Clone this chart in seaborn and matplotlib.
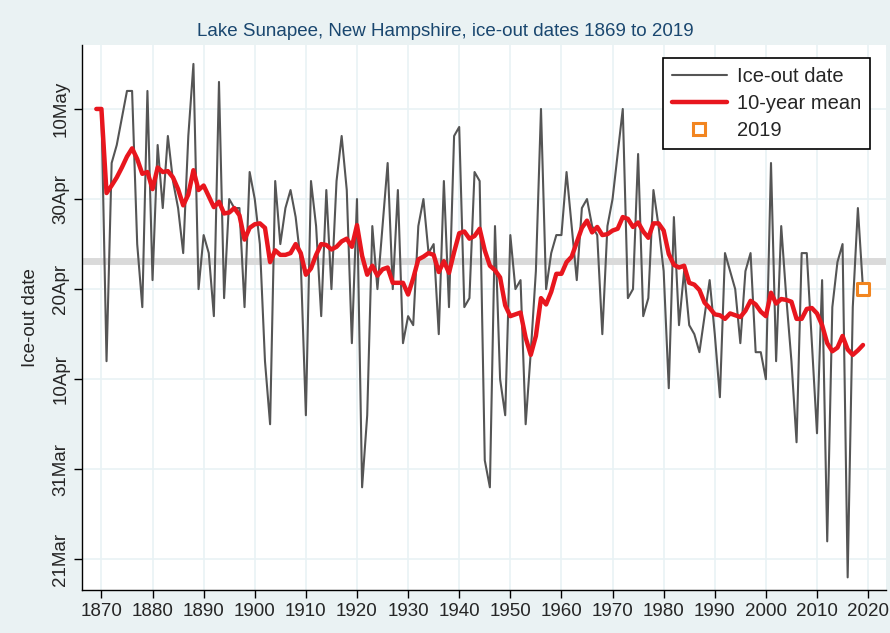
import numpy as np
import pandas as pd
import matplotlib.pyplot as plt
from matplotlib.lines import Line2D
import seaborn as sns

# ice-out day of year (non-leap)
YEARS = list(range(1869, 2020))
ICE_OUT_DOY = [
    130, 130, 102, 124, 126, 129, 132, 132, 115, 108,   # 1869-1878
    132, 111, 126, 119, 127, 122, 119, 114, 127, 135,   # 1879-1888
    110, 116, 114, 107, 133, 109, 120, 119, 119, 108,   # 1889-1898
    123, 120, 115, 102, 95, 122, 115, 119, 121, 118,    # 1899-1908
    113, 96, 122, 117, 107, 121, 110, 122, 127, 121,    # 1909-1918
    104, 120, 88, 96, 117, 110, 117, 124, 110, 121,     # 1919-1928
    104, 107, 106, 117, 120, 114, 115, 105, 122, 108,   # 1929-1938
    127, 128, 108, 109, 123, 122, 91, 88, 117, 100,     # 1939-1948
    96, 116, 110, 111, 95, 103, 112, 130, 110, 114,     # 1949-1958
    116, 116, 123, 117, 111, 119, 120, 117, 116, 105,   # 1959-1968
    117, 120, 125, 130, 109, 110, 125, 107, 109, 121,   # 1969-1978
    117, 112, 99, 118, 106, 112, 106, 105, 103, 107,    # 1979-1988
    111, 105, 98, 114, 112, 110, 104, 112, 114, 103,    # 1989-1998
    103, 100, 124, 102, 117, 109, 102, 93, 114, 114,    # 1999-2008
    104, 94, 111, 82, 108, 113, 115, 78, 108, 119,      # 2009-2018
    110,                                                # 2019
]
HIGHLIGHT_YEAR = 2019

YTICKS = [80, 90, 100, 110, 120, 130]
YTICK_LABELS = ["21Mar", "31Mar", "10Apr", "20Apr", "30Apr", "10May"]
XTICKS = list(range(1870, 2021, 10))

BG = "#EAF2F3"
GRID = "#E9F2F5"
NAVY = "#1A476F"
FONT = ["Liberation Sans Narrow", "Liberation Sans", "DejaVu Sans"]

sns.set_theme(style="white")
plt.rcParams["font.family"] = FONT


def main():
    df = pd.DataFrame({"year": YEARS, "doy": ICE_OUT_DOY})
    df["mean10"] = df["doy"].rolling(10, min_periods=1).mean()
    overall = df["doy"].mean()

    fig = plt.figure(figsize=(8.9, 6.33), dpi=100, facecolor=BG)
    ax = fig.add_axes([82 / 890, 43 / 633, 804 / 890, 545 / 633])
    ax.set_facecolor("white")

    ax.axhline(overall, color="#DADADA", linewidth=5, zorder=1)
    sns.lineplot(data=df, x="year", y="doy", color="#555555", linewidth=1.5, ax=ax, zorder=3)
    sns.lineplot(data=df, x="year", y="mean10", color="#E8161E", linewidth=3.2, ax=ax, zorder=4)
    last = df[df["year"] == HIGHLIGHT_YEAR]
    ax.scatter(last["year"], last["doy"], marker="s", s=70, facecolors="white",
               edgecolors="#F28520", linewidths=2.2, zorder=5)

    ax.set_xlim(1866.2, 2023.5)
    ax.set_ylim(76.6, 137.1)
    ax.set_xticks(XTICKS)
    ax.set_yticks(YTICKS)
    ax.set_yticklabels(YTICK_LABELS, rotation=90, va="center")
    ax.grid(True, color=GRID, linewidth=1.2)
    ax.set_axisbelow(True)
    ax.tick_params(axis="both", which="major", length=6, width=1, color="black",
                   labelsize=13.5, direction="out", bottom=True, left=True, pad=3)
    for side in ["top", "right"]:
        ax.spines[side].set_visible(False)
    for side in ["left", "bottom"]:
        ax.spines[side].set_color("black")
        ax.spines[side].set_linewidth(1)

    ax.set_xlabel("")
    ax.set_ylabel("Ice-out date", fontsize=13.5, labelpad=10)
    fig.text(0.5, 1 - 31 / 633, "Lake Sunapee, New Hampshire, ice-out dates 1869 to 2019",
             ha="center", va="center", fontsize=13.5, color=NAVY)

    handles = [
        Line2D([], [], color="#555555", linewidth=1.5),
        Line2D([], [], color="#E8161E", linewidth=3.2),
        Line2D([], [], marker="s", linestyle="none", markersize=8, markerfacecolor="white",
               markeredgecolor="#F28520", markeredgewidth=2.2),
    ]
    leg = ax.legend(handles, ["Ice-out date", "10-year mean", "2019"], loc="upper right",
                    bbox_to_anchor=(0.980, 0.976), borderaxespad=0, fontsize=14.5,
                    frameon=True, fancybox=False, borderpad=0.45, handlelength=2.7,
                    labelspacing=0.4, handletextpad=0.5)
    leg.get_frame().set_edgecolor("black")
    leg.get_frame().set_linewidth(1.2)
    leg.get_frame().set_alpha(1)

    plt.savefig("out.png", dpi=100, facecolor=BG)
    plt.close()


if __name__ == "__main__":
    main()
